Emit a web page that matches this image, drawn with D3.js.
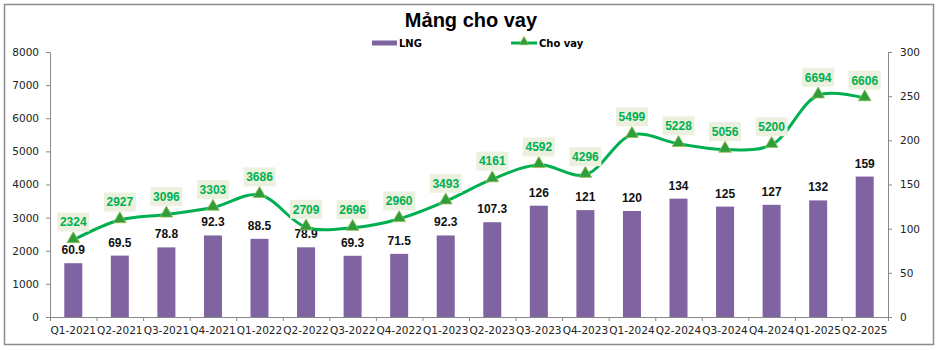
<!DOCTYPE html>
<html>
<head>
<meta charset="utf-8">
<script src="https://cdn.jsdelivr.net/npm/d3@7"></script>
<style>
  body { margin: 0; background: #fff; }
  svg text { font-family: "DejaVu Sans", sans-serif; }
</style>
</head>
<body>
<div id="viz"></div>
<script>
const quarters = ["Q1-2021","Q2-2021","Q3-2021","Q4-2021","Q1-2022","Q2-2022","Q3-2022","Q4-2022",
  "Q1-2023","Q2-2023","Q3-2023","Q4-2023","Q1-2024","Q2-2024","Q3-2024","Q4-2024","Q1-2025","Q2-2025"];
const lng = [60.9, 69.5, 78.8, 92.3, 88.5, 78.9, 69.3, 71.5, 92.3, 107.3, 126, 121, 120, 134, 125, 127, 132, 159];
const choVay = [2324, 2927, 3096, 3303, 3686, 2709, 2696, 2960, 3493, 4161, 4592, 4296, 5499, 5228, 5056, 5200, 6694, 6606];
const leftTicks = [0, 1000, 2000, 3000, 4000, 5000, 6000, 7000, 8000];
const rightTicks = [0, 50, 100, 150, 200, 250, 300];

const width = 939, height = 350;
const margin = {top: 52, right: 51, bottom: 33, left: 50};
const barColor = "#8064A2", lineColor = "#00B050";

const svg = d3.select("#viz").append("svg")
  .attr("width", width).attr("height", height);

// outer frame
svg.append("rect")
  .attr("x", 4.5).attr("y", 4.5)
  .attr("width", 929).attr("height", 340)
  .attr("fill", "none").attr("stroke", "#8c8c8c").attr("stroke-width", 1.5);

const x = d3.scaleBand()
  .domain(quarters)
  .range([margin.left, width - margin.right]);

const yLeft = d3.scaleLinear().domain([0, 8000]).range([height - margin.bottom, margin.top]);
const yRight = d3.scaleLinear().domain([0, 300]).range([height - margin.bottom, margin.top]);

// title
svg.append("text")
  .attr("x", 471).attr("y", 27)
  .attr("text-anchor", "middle")
  .style("font-family", "'Liberation Sans', Arial, sans-serif")
  .style("font-weight", "bold").style("font-size", "20px")
  .text("Mảng cho vay");

// legend
const leg = svg.append("g").style("font-family", "'Liberation Sans', Arial, sans-serif")
  .style("font-weight", "bold").style("font-size", "10px");
leg.append("rect").attr("x", 372).attr("y", 40.5).attr("width", 25).attr("height", 5).attr("fill", barColor);
leg.append("text").attr("x", 399).attr("y", 47).text("LNG");
leg.append("line").attr("x1", 511).attr("x2", 537).attr("y1", 43).attr("y2", 43)
  .attr("stroke", lineColor).attr("stroke-width", 3);
leg.append("path").attr("d", d3.symbol(d3.symbolTriangle, 40)())
  .attr("transform", "translate(524,42)")
  .attr("fill", "#2E9E3A").attr("stroke", "#9BBB59").attr("stroke-width", 0.8);
leg.append("text").attr("x", 539).attr("y", 47).text("Cho vay");

// axes
const axisColor = "#888";
const gl = svg.append("g").attr("transform", `translate(${margin.left},0)`)
  .call(d3.axisLeft(yLeft).tickValues(leftTicks).tickFormat(d3.format("d")).tickSize(4).tickSizeOuter(0).tickPadding(7));
const gr = svg.append("g").attr("transform", `translate(${width - margin.right},0)`)
  .call(d3.axisRight(yRight).tickValues(rightTicks).tickSize(4).tickSizeOuter(0).tickPadding(8));
const gx = svg.append("g").attr("transform", `translate(0,${height - margin.bottom})`)
  .call(d3.axisBottom(x).tickSize(0).tickSizeOuter(0).tickPadding(10));

// tick marks between categories
const xEdges = d3.scaleLinear().domain([0, quarters.length]).range([margin.left, width - margin.right]);
svg.append("g").attr("transform", `translate(0,${height - margin.bottom})`)
  .call(d3.axisBottom(xEdges).tickValues(d3.range(quarters.length + 1)).tickFormat("").tickSize(4).tickSizeOuter(0))
  .call(g => g.select(".domain").remove());

svg.selectAll(".domain, .tick line").attr("stroke", axisColor);
[gl, gr, gx].forEach(g => g.selectAll("text")
  .style("font-family", "'DejaVu Sans', sans-serif").style("font-size", "10.5px").attr("fill", "#222"));

// bars
const barW = 18;
svg.append("g").selectAll("rect")
  .data(lng)
  .join("rect")
    .attr("x", (d, i) => x(quarters[i]) + x.bandwidth() / 2 - barW / 2)
    .attr("y", d => yRight(d))
    .attr("width", barW)
    .attr("height", d => yRight(0) - yRight(d))
    .attr("fill", barColor);

svg.append("g").selectAll("text")
  .data(lng)
  .join("text")
    .attr("x", (d, i) => x(quarters[i]) + x.bandwidth() / 2)
    .attr("y", d => yRight(d) - 9)
    .attr("text-anchor", "middle")
    .style("font-family", "'Liberation Sans', Arial, sans-serif")
    .style("font-weight", "bold").style("font-size", "12px")
    .attr("fill", "#111")
    .text(d => d);

// line
const line = d3.line()
  .x((d, i) => x(quarters[i]) + x.bandwidth() / 2)
  .y(d => yLeft(d))
  .curve(d3.curveCatmullRom.alpha(0.5));

svg.append("path")
  .datum(choVay)
  .attr("d", line)
  .attr("fill", "none")
  .attr("stroke", lineColor)
  .attr("stroke-width", 3);

svg.append("g").selectAll("path")
  .data(choVay)
  .join("path")
    .attr("d", d3.symbol(d3.symbolTriangle, 70)())
    .attr("transform", (d, i) => `translate(${x(quarters[i]) + x.bandwidth() / 2},${yLeft(d) - 1})`)
    .attr("fill", "#2E9E3A")
    .attr("stroke", "#9BBB59")
    .attr("stroke-width", 0.8);

// line labels with light boxes
const lbl = svg.append("g").selectAll("g")
  .data(choVay)
  .join("g")
    .attr("transform", (d, i) => `translate(${x(quarters[i]) + x.bandwidth() / 2},${yLeft(d) - 18})`);
lbl.append("rect")
  .attr("x", -16).attr("y", -9.5)
  .attr("width", 32).attr("height", 19)
  .attr("fill", "#EBF1DE");
lbl.append("text")
  .attr("text-anchor", "middle")
  .attr("dy", "0.36em")
  .style("font-family", "'Liberation Sans', Arial, sans-serif")
  .style("font-weight", "bold").style("font-size", "12px")
  .attr("fill", "#00B050")
  .text(d => d);
</script>
</body>
</html>
